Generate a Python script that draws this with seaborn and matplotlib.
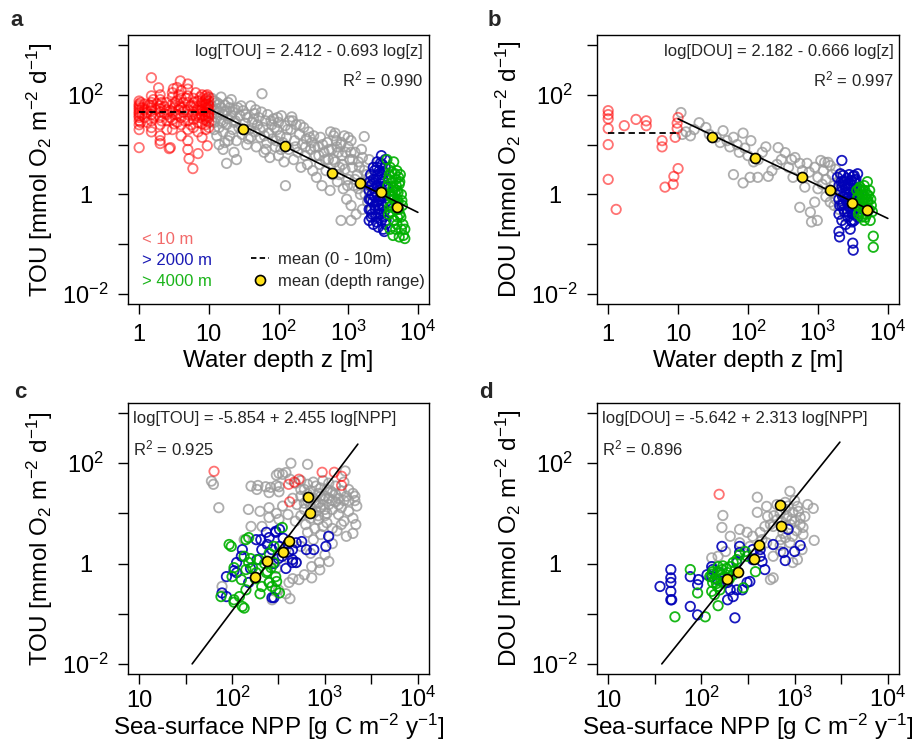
import matplotlib
matplotlib.use("Agg")
import numpy as np
import pandas as pd
import matplotlib.pyplot as plt
from matplotlib.lines import Line2D
from matplotlib.ticker import FixedLocator, FixedFormatter, NullLocator
import seaborn as sns

# ---------------- data ----------------
# Panel a: water depth z [m] vs TOU [mmol O2 m-2 d-1]
a_red = [(1,75),(1,60),(1,50),(1,42),(1,35),(1,30),(1,25),(1,20),(1,65),(1,55),(1,45),(1,38),(1,8.7),(1.05,70),(1.05,28),
         (1.5,220),(1.5,95),(1.5,70),(1.5,55),(1.5,40),(1.5,30),(1.5,22),(1.5,18),(1.5,48),(1.5,60),(1.6,35),(1.6,80),(1.9,138),
         (2,100),(2,80),(2,60),(2,45),(2,35),(2,25),(2,12),(2,15),(2,52),(2.1,30),(2.1,70),(2,10.5),
         (2.5,70),(2.5,50),(2.5,30),(2.5,20),(2.7,8.3),(2.5,40),(2.8,8.7),
         (3,110),(3,90),(3,65),(3,45),(3,32),(3,20),(3.2,55),(3.2,26),(3.1,132),
         (3.5,140),(3.5,75),(3.5,40),(3.5,28),(3.7,100),(3.7,50),
         (3.9,190),(4,120),(4,85),(4,55),(4,35),(4,25),(4,15),(4.3,70),(4.3,45),
         (5,165),(5,130),(5,95),(5,70),(5,50),(5,40),(5,30),(5,20),(5,12),(5,8),(5.2,5.2),(5.5,60),(5.5,25),
         (5.9,3.3),(6,85),(6,60),(6,45),(6,32),(6,22),(6.5,110),(6.5,38),
         (7,75),(7,55),(7,40),(7,28),(7,18),(7.5,90),(7.5,48),(7,6.6),
         (8,100),(8,70),(8,50),(8,38),(8,26),(8,14),(8.5,60),(8.5,32),
         (9,95),(9,80),(9,65),(9,55),(9,45),(9,35),(9,25),(9,20),
         (10,90),(10,75),(10,60),(10,50),(10,42),(10,35),(10,28),(10,22),(9.5,100),(9.5,9.5),
         (1.2,50),(1.2,35),(1.2,65),(1.3,45),(1.3,28),(1.7,50),(1.7,38),(1.8,65),(2.3,42),(2.3,58),(2.8,48),(2.8,35),
         (3.3,70),(3.3,40),(3.8,60),(4.5,50),(4.5,30),(4.7,85),(5.8,40),(6.2,70),(6.8,50),(7.3,35),(7.8,62),(8.2,45),
         (8.8,40),(8.8,75),(9.3,30),(9.6,55),(9.8,65),(9.8,45),(9.9,38),(9.2,85),(1.1,55),(1.1,40),(1.4,62)]
a_gray = [(11,60),(11,40),(12,28),(12,50),(13,70),(13,35),(14,22),(14,45),(15,55),(15,30),(16,18),(16,40),(17,62),(18,25),
          (18,48),(19,33),(20,15),(20,55),(11,85),(12,75),(14,10),(16,8),(19,12),(21,80),(23,7),(13,15),(17,11),(15,90),(25,5),
          (22,45),(22,20),(24,30),(25,12),(26,55),(27,22),(28,38),(30,16),(31,48),(33,27),(35,10),(36,35),(38,20),(40,60),
          (40,14),(42,28),(45,42),(46,18),(48,9),(50,25),(18,4.2),
          (52,35),(55,14),(58,105),(60,22),(62,7),(65,30),(68,11),(70,40),(72,17),(75,5.5),(80,25),(82,13),(85,33),(90,9),
          (95,20),(100,6),(100,28),(105,15),(110,38),(115,11),(120,4.5),(125,24),
          (126,1.5),(130,14),(140,8),(150,20),(155,36),(160,30),(165,5),(170,12),(180,25),(190,7),(200,16),(210,3.5),(220,10),
          (230,22),(240,6),(250,13),(260,4),(270,18),(290,8),(300,11),(310,3),(320,15),
          (340,6),(350,2.2),(370,9),(390,4),(400,14),(420,1.5),(450,7),(480,3),(500,11),(520,5),(550,1.2),(560,18),(580,8),
          (600,2.5),(620,15),(650,4.5),(680,12),(700,1.8),(720,7),(750,3.5),(780,10),(790,0.3),(650,17),(800,11),
          (820,6),(850,1.3),(880,15),(900,3.2),(950,0.8),(1000,9),(1000,2),(1050,5),(1100,0.6),(1100,12),(1150,3.5),
          (1200,1.5),(1250,7),(1300,0.4),(1350,2.5),(1400,4.5),(1500,1),(1550,8),(1600,0.5),(1700,14.5),(1700,3),(1800,1.8),
          (1900,0.7),(2000,5),(2000,2.2),(1100,0.3),(1000,14),(1100,7),
          (11,30),(12,20),(13,52),(14,65),(16,28),(17,45),(19,70),(21,38),(23,28),(24,50),(29,60),(32,20),(34,40),(37,13),
          (44,32),(47,50),(54,20),(57,45),(63,15),(66,8),(78,30),(88,22),(92,12),(97,35),(108,8),(135,20),(145,30),(175,9),
          (205,25),(245,9),(280,14),(330,9),(380,6),(430,10),(470,5),(530,8),(610,5),(690,9),(740,2.5),(830,4),(920,7),
          (980,1.5),(1150,5),(1250,2),(1400,1.3),(1450,3.5),(1600,5.5),(1750,1),(1850,2.5),(1950,1.3),(2100,0.8)]
a_blue = [(2000,0.5),(2000,1.2),(2000,0.3),(2100,2.5),(2100,0.8),(2200,0.4),(2200,1.6),(2300,0.25),(2300,3.5),(2400,0.9),
          (2400,0.6),(2500,2),(2500,0.35),(2500,1.1),(2600,4.5),(2600,0.7),(2700,0.22),(2700,1.4),(2800,3),(2800,0.5),
          (2900,0.9),(2900,2.2),(3000,6),(3000,0.3),(3000,1.3),(3100,0.6),(3100,4),(3200,0.2),(3200,1.8),(3300,0.45),
          (3300,2.8),(3400,1),(3400,5),(3500,0.3),(3500,0.7),(3500,1.5),(2200,1),(2400,3),(2600,1.5),(2800,0.8),
          (3200,0.9),(3300,0.18),(2100,0.5),(2700,0.4),(3000,2.5),
          (2000,0.8),(2050,1.8),(2150,0.35),(2250,0.7),(2350,1.3),(2450,0.5),(2550,0.28),(2650,2.5),(2750,0.6),(2850,1.2),
          (2950,0.4),(3050,0.9),(3150,2),(3250,0.55),(3350,1.4),(3450,0.25),(2300,2),(2600,3.5),(2900,4.2),(3400,3.5),
          (2100,1.5),(3200,0.35)]
a_green = [(3600,5),(3800,2),(3800,0.4),(4000,3.5),(4000,1),(4000,0.2),(4200,0.6),(4200,2.8),(4400,1.4),(4400,0.15),
           (4500,4.5),(4600,0.8),(4600,0.3),(4800,2),(4800,0.5),(5000,1.2),(5000,0.25),(5000,3),(5200,0.7),(5400,1.6),
           (5400,0.14),(5500,0.4),(5600,2.5),(5800,0.2),(5800,1),(6000,0.6),(6200,0.15),(6500,0.2),(6500,0.13),(4300,1.8),
           (4700,1.1),(5100,0.35),(4100,0.9),(4900,0.65),(5300,2.2),(3900,0.55),
           (3700,1.5),(3900,2.5),(4100,0.45),(4300,1.2),(4500,0.3),(4700,2.6),(4900,1.5),(5100,0.8),(5300,0.5),(5500,1.8),
           (5700,0.35),(5900,0.75),(6100,0.25),(4400,0.9),(4800,0.2),(5200,1.1)]
a_mean_depth = [31, 122, 590, 1480, 2960, 5000]
a_mean_tou = [21, 9.5, 2.75, 1.66, 1.1, 0.55]
a_shallow_mean = 46          # mean TOU 0-10 m
a_fit = (2.412, -0.693)      # log[TOU] = 2.412 - 0.693 log[z]
a_fit_depth = [10, 10000]

# Panel b: water depth z [m] vs DOU
b_red = [(1,48),(1,40),(1,33),(1,21),(1,10),(1,2.0),(1.3,0.5),(1.7,24),(2.5,32),(3.5,30),(3.5,24),(5.9,12),(5.9,9),
         (9.1,14),(9.7,27),(9.7,21),(10,3.3),(8.7,2.3),(8.5,1.6),(6.5,1.4),(10,35)]
b_gray = [(11,44),(20,27.5),(15,15),(11.5,16),(13,18),(17,20),(25,22),(28,16),(44,19),(62,14),(85,17),(35,14),(40,11),
          (50,12),(55,9),(70,10),(75,7),(90,8.5),(100,6),(110,12),(120,4.5),(140,5),(160,7),(180,9),(62,2.5),(85,1.7),
          (107,2.2),(138,2.2),(195,2.3),(270,8.7),(340,6.9),(470,5.5),(550,4.2),(700,4.2),(440,2.2),(650,1.4),(550,0.55),
          (780,0.44),(980,0.3),(810,0.28),(220,3),(260,4),(300,5),(380,3.5),(420,5),(600,3),(750,2.8),(900,3.5),(1000,2.2),
          (1100,4.8),(1200,3),(1300,2),(1400,4.4),(1600,2.5),(1700,1.5),(1800,3.2),(2000,1.8),(2200,1.2),(1250,4.4),
          (1500,3.8),(1000,1.3),(1300,0.9),(1500,0.7),(1800,0.8),(2000,0.5),(1150,1.6),(900,0.7),(1600,1.1),(2100,2.5),
          (2300,0.9),(1700,0.6),(2500,0.35)]
b_blue = [(2200,4.8),(3150,0.105),(3200,0.076),(2040,0.14),(1900,2.2),(2000,1.5),(2000,0.8),(2000,0.4),(2100,2.6),
          (2100,1.1),(2200,0.6),(2200,0.3),(2300,1.8),(2300,2.4),(2400,0.9),(2400,0.45),(2500,1.3),(2500,0.25),(2600,2.1),
          (2600,0.7),(2700,1.6),(2700,0.35),(2800,2.5),(2800,1),(2900,0.55),(2900,0.2),(3000,1.9),(3000,0.8),(3100,1.3),
          (3100,0.4),(3200,2.3),(3200,0.65),(3300,1.1),(3300,0.3),(3400,1.7),(3400,0.5),(3500,2),(3500,0.9),(3600,1.4),
          (3600,0.6),(3700,2.6),(3700,0.35),(3800,1),(2200,1.4),(2600,1.1),(3000,0.3),(2400,1.9),(3300,2.4),(2000,0.18),
          (2050,0.6),(2150,1.8),(2250,0.9),(2350,0.5),(2450,1.5),(2550,0.8),(2650,0.45),(2750,1.3),(2850,0.7),(2950,1.6),
          (3050,0.5),(3150,1),(3250,0.4),(3350,1.9),(3450,0.7),(3550,1.2),(2300,0.65),(2800,0.55),(3100,0.28)]
b_green = [(5100,1.8),(6200,0.145),(6200,0.087),(3600,1.2),(3700,0.6),(3800,0.9),(3900,0.45),(4000,1.4),(4000,0.7),
           (4200,0.35),(4200,1.1),(4400,0.55),(4500,0.8),(4600,1.5),(4600,0.3),(4800,0.65),(5000,1),(5000,0.4),(5200,0.75),
           (5400,0.5),(5500,1.2),(5600,0.3),(5800,0.6),(6000,0.45),(4300,0.95),(3800,0.4),(4700,1.2),
           (3700,0.85),(3900,1.3),(4100,0.55),(4300,0.7),(4500,0.4),(4700,0.9),(4900,0.55),(5100,0.7),(5300,0.95),
           (5700,0.8),(4400,1.2),(4800,0.35)]
b_mean_depth = [31, 126, 590, 1480, 3090, 5000]
b_mean_dou = [14.5, 5.5, 2.2, 1.2, 0.66, 0.48]
b_shallow_mean = 17.4
b_fit = (2.182, -0.666)
b_fit_depth = [10, 10000]

# Panel c: sea-surface NPP [g C m-2 y-1] vs TOU
c_red = [(64,69),(407,38),(468,42),(525,48),(417,17),(933,66),(1260,66),(1510,55),(1510,36)]
c_gray = [(430,100),(650,95),(320,63),(350,60),(380,65),(300,58),(60,44),(63,38),(72,13),
          (160,35),(190,36),(230,34),(260,33),(300,36),(320,34),(185,30),(250,26),(320,27),
          (150,12),(200,11),(250,13),(300,10),(350,14),(400,9.5),(250,8.3),(320,7.6),(160,5.5),(210,5.5),(135,3),
          (420,48),(480,40),(550,45),(600,30),(650,38),(700,28),(750,42),(800,35),(850,25),(900,32),(950,45),(1000,22),
          (1050,30),(1100,40),(1200,26),(1300,35),(1400,20),(1500,28),(1600,42),(1700,22),(1800,30),(2000,25),(2100,18),
          (2200,14),(1650,70),
          (450,20),(500,15),(550,22),(600,12),(650,18),(700,14),(750,20),(800,11),(850,16),(900,13),(950,19),(1000,9),
          (1100,15),(1200,12),(1300,17),(1400,9.5),(1500,13),(1600,7),(1800,11),(2000,8),(2150,6),(2100,22),
          (480,7),(550,9),(620,6),(700,8),(780,5),(850,7.5),(950,5.5),(1050,6.5),(1200,5),(1350,4.5),(1500,6),(1700,3.5),
          (900,3.8),(650,4.2),(2000,4),
          (490,1.05),(720,0.87),(870,1.05),(525,0.48),(720,0.52),(410,0.42),(250,0.42),(78,0.35),(316,0.3),(270,0.19),
          (450,0.5),(600,0.6),(880,0.75),(400,1.3),(380,1.9),(1000,1.5),(1200,2.5),(550,2.2),(700,1.6),(1100,1.1),
          (750,3),(300,0.8),(420,0.2),(380,0.25),
          (700,20),(900,22),(1100,20),(1300,24),(800,16),(1000,12),(1200,18),(600,16),(750,10),(950,15),(1400,15),
          (1600,18),(550,30),(1800,18),(850,9),(1050,10),(650,24),(1150,28)]
c_blue = [(204,3.0),(251,3.3),(295,4.4),(324,4.8),(240,2.4),(209,1.9),(186,1.2),(269,1.9),(324,2.2),(347,1.4),(407,1.7),
          (447,1.9),(490,2.6),(562,2.75),(447,1.2),(490,1.05),(631,1.9),(759,1.9),(1023,2.2),(1096,3.5),(126,1.4),
          (129,1.9),(112,1.05),(87,0.55),(78,0.26),(87,0.22),(112,0.66),(151,0.42),(282,0.21),(269,0.21),(105,0.72),
          (182,3.0),(234,4.2),(295,4.2),(447,1.05),(355,3.2),(400,2.5),(316,1.26),(282,1.0),(380,0.8),(158,0.8)]
c_green = [(93,2.4),(141,3.0),(151,3.3),(98,2.2),(347,5.25),(135,1.4),(151,1.05),(141,0.76),(166,0.83),(105,0.83),
           (100,0.55),(126,0.48),(182,0.66),(195,1.2),(234,0.66),(263,0.83),(282,1.05),(295,0.55),(251,0.42),(269,0.35),
           (302,0.44),(209,0.35),(141,0.30),(120,0.22),(105,0.17),(129,0.14),(135,0.13),(76,0.22),(324,0.26),(105,0.19),
           (295,0.30),(224,1.0),(251,1.6),(178,0.5),(158,1.26),(200,0.25),(282,2.2),(240,0.7)]
c_mean_npp = [177, 238, 353, 407, 660, 690]
c_mean_tou = [0.55, 1.15, 1.7, 2.8, 21, 10]
c_fit = (-5.854, 2.455)
c_fit_npp = [37.2, 2260]

# Panel d: sea-surface NPP vs DOU
d_red = [(155,24)]
d_gray = [(891,27.5),(398,21),(501,13.8),(646,15),(794,16.6),(1380,15),(1585,12.6),(1072,13.8),(398,10.5),(513,8.7),
          (170,9.1),(166,5.25),(204,3.5),(257,4.8),(309,4.2),(355,3.5),(427,4.2),(589,5.5),(724,6.9),(832,8.7),
          (955,10.5),(933,7.6),(1148,8.3),(1288,8.7),(1230,5.25),(1622,2.9),(1202,1.9),(1072,1.2),(955,1.05),(589,1.4),
          (708,1.74),(550,0.48),(589,0.52),(151,1.4),(182,1.74),(129,1.3),(257,2.6),(331,2.2),(447,3.0),(501,2.6),
          (708,3.0),(891,2.6),(1230,3.8),(700,10),(800,12),(900,6),(1000,7),(1100,11),(650,7.5),(750,4),(850,5),
          (950,3.5),(1050,4.5),(600,9),(550,6),(1000,18),(480,5.5),(850,14),(1150,6),(700,2.3),(800,3.3)]
d_blue = [(36,0.35),(47,0.76),(47,0.52),(47,0.42),(47,0.28),(47,0.19),(48,0.19),(76,0.55),(93,0.48),(91,0.38),(76,0.14),
          (91,0.095),(115,0.60),(129,0.87),(132,0.76),(166,2.2),(191,0.42),(204,0.30),(191,0.19),(219,0.22),(229,0.083),
          (240,0.30),(275,0.30),(309,0.42),(331,0.44),(257,2.2),(257,1.66),(240,1.05),(355,1.2),(427,1.4),(447,1.1),
          (479,0.76),(589,2.4),(851,4.8),(759,1.66),(794,1.15),(1000,1.74),(1148,2.3),(427,1.9),(355,1.9),(129,0.55),
          (148,0.48),(158,0.66)]
d_green = [(76,0.76),(91,0.26),(52,0.087),(110,0.087),(151,0.145),(123,0.55),(132,0.42),(148,0.35),(129,0.28),(138,0.24),
           (158,0.30),(170,0.42),(166,0.76),(191,0.66),(204,0.87),(219,1.05),(240,1.2),(257,1.5),(295,1.74),(309,1.4),
           (282,0.33),(380,0.69),(219,0.60),(151,0.87),(132,0.69),(140,0.5),(160,0.6),(175,0.55),(150,0.7),(145,0.4),
           (185,0.8),(200,0.5),(230,0.75),(170,0.9),(130,0.62)]
d_mean_npp = [186, 245, 363, 417, 692, 708]
d_mean_dou = [0.5, 0.69, 1.26, 2.3, 15, 5.5]
d_fit = (-5.642, 2.313)
d_fit_npp = [37.6, 3060]

depth_ticks = [1, 10, 100, 1000, 10000]
depth_ticklabels = ['1', '10', '$10^2$', '$10^3$', '$10^4$']
npp_ticks = [10, 31.62, 100, 316.2, 1000, 3162, 10000]
npp_ticklabels = ['10', '', '$10^2$', '', '$10^3$', '', '$10^4$']
flux_ticks = [0.01, 0.1, 1, 10, 100, 1000]
flux_ticklabels = ['$10^{-2}$', '', '1', '', '$10^2$', '']

# ---------------- style ----------------
sns.set_style("white")
plt.rcParams['font.family'] = ['Liberation Sans', 'DejaVu Sans']
plt.rcParams['mathtext.fontset'] = 'custom'
plt.rcParams['mathtext.rm'] = 'Liberation Sans'
plt.rcParams['mathtext.it'] = 'Liberation Sans:italic'
plt.rcParams['mathtext.bf'] = 'Liberation Sans:bold'
plt.rcParams['mathtext.sf'] = 'Liberation Sans'
plt.rcParams['mathtext.default'] = 'regular'

RED, GRAY, BLUE, GREEN, YELLOW = '#ff0000', '#9a9a9a', '#0000b8', '#00b000', '#ffe21a'

W, H = 920, 744
fig = plt.figure(figsize=(W / 100, H / 100), dpi=100)


def add_ax(l, t, r, b):
    ax = fig.add_axes([l / W, 1 - b / H, (r - l) / W, (b - t) / H])
    ax.set_xscale('log')
    ax.set_yscale('log')
    return ax


def pts(ax, data, color, alpha, z=2):
    df = pd.DataFrame(data, columns=['x', 'y'])
    sns.scatterplot(data=df, x='x', y='y', ax=ax, marker='o', s=46, facecolor='none',
                    edgecolor=color, linewidth=1.3, alpha=alpha, zorder=z, legend=False)


def means(ax, x, y):
    df = pd.DataFrame({'x': x, 'y': y})
    sns.scatterplot(data=df, x='x', y='y', ax=ax, marker='o', s=52, facecolor=YELLOW,
                    edgecolor='black', linewidth=1.2, zorder=6, legend=False)


def fit_line(ax, xr, coef):
    x = np.array(xr, dtype=float)
    y = 10 ** (coef[0] + coef[1] * np.log10(x))
    sns.lineplot(x=x, y=y, ax=ax, color='black', linewidth=1.2, zorder=5, estimator=None, sort=False)


def shallow(ax, val):
    sns.lineplot(x=[1, 10], y=[val, val], ax=ax, color='black', linewidth=1.3, linestyle=(0, (3.5, 2.2)),
                 zorder=5, estimator=None, sort=False)


def style(ax, xlim, xticks, xlabels, xlabel, ylabel, xtickpad, xlabelpad):
    ax.set_xlim(*xlim)
    ax.set_ylim(10 ** -2.2, 10 ** 3.2)
    ax.xaxis.set_major_locator(FixedLocator(xticks))
    ax.xaxis.set_major_formatter(FixedFormatter(xlabels))
    ax.xaxis.set_minor_locator(NullLocator())
    ax.yaxis.set_major_locator(FixedLocator(flux_ticks))
    ax.yaxis.set_major_formatter(FixedFormatter(flux_ticklabels))
    ax.yaxis.set_minor_locator(NullLocator())
    for sp in ax.spines.values():
        sp.set_visible(True)
        sp.set_color('black')
        sp.set_linewidth(1.0)
    ax.tick_params(axis='both', which='major', direction='out', length=7.5, width=1.0, color='black',
                   labelsize=17, bottom=True, left=True, top=False, right=False, labelcolor='black')
    ax.tick_params(axis='x', pad=xtickpad)
    ax.tick_params(axis='y', pad=23)
    plt.setp(ax.get_xticklabels(), va='baseline')
    plt.setp(ax.get_yticklabels(), ha='center', va='center_baseline')
    ax.set_xlabel(xlabel, fontsize=17.5, labelpad=xlabelpad, color='black')
    ax.set_ylabel(ylabel, fontsize=17.5, labelpad=5, color='black')


depth_lim = (10 ** -0.16, 10 ** 4.16)
npp_lim = (10 ** 0.88, 10 ** 4.12)
tou_label = 'TOU [mmol O$_2$ m$^{-2}$ d$^{-1}$]'
dou_label = 'DOU [mmol O$_2$ m$^{-2}$ d$^{-1}$]'
npp_label = 'Sea-surface NPP [g C m$^{-2}$ y$^{-1}$]'

# ---- panel a ----
ax = add_ax(128, 35, 429, 304)
pts(ax, a_gray, GRAY, 0.8)
pts(ax, a_red, RED, 0.55)
pts(ax, a_blue, BLUE, 0.9)
pts(ax, a_green, GREEN, 0.9)
fit_line(ax, a_fit_depth, a_fit)
shallow(ax, a_shallow_mean)
means(ax, a_mean_depth, a_mean_tou)
style(ax, depth_lim, depth_ticks, depth_ticklabels, 'Water depth z [m]', tou_label, 19, 3)
ax.text(0.98, 0.94, 'log[TOU] = 2.412 - 0.693 log[z]', transform=ax.transAxes, ha='right', va='center', fontsize=12)
ax.text(0.98, 0.836, 'R$^2$ = 0.990', transform=ax.transAxes, ha='right', va='center', fontsize=12)
ax.text(0.047, 0.238, '< 10 m', transform=ax.transAxes, ha='left', va='center', fontsize=12, color='#f26a6a')
ax.text(0.047, 0.160, '> 2000 m', transform=ax.transAxes, ha='left', va='center', fontsize=12, color='#1a1ab4')
ax.text(0.047, 0.085, '> 4000 m', transform=ax.transAxes, ha='left', va='center', fontsize=12, color='#1ab41a')
handles = [Line2D([], [], color='black', lw=1.3, ls=(0, (3.0, 1.8))),
           Line2D([], [], color='black', marker='o', ls='none', mfc=YELLOW, mec='black', mew=1.2, ms=7.2)]
ax.legend(handles, ['mean (0 - 10m)', 'mean (depth range)'], loc='lower right', bbox_to_anchor=(0.985, 0.055),
          frameon=False, fontsize=12, handlelength=1.1, handletextpad=0.5, labelspacing=0.45, borderpad=0,
          borderaxespad=0)

# ---- panel b ----
ax = add_ax(597, 35, 899, 304)
pts(ax, b_gray, GRAY, 0.8)
pts(ax, b_red, RED, 0.55)
pts(ax, b_blue, BLUE, 0.9)
pts(ax, b_green, GREEN, 0.9)
fit_line(ax, b_fit_depth, b_fit)
shallow(ax, b_shallow_mean)
means(ax, b_mean_depth, b_mean_dou)
style(ax, depth_lim, depth_ticks, depth_ticklabels, 'Water depth z [m]', dou_label, 19, 3)
ax.text(0.983, 0.94, 'log[DOU] = 2.182 - 0.666 log[z]', transform=ax.transAxes, ha='right', va='center', fontsize=12)
ax.text(0.983, 0.836, 'R$^2$ = 0.997', transform=ax.transAxes, ha='right', va='center', fontsize=12)

# ---- panel c ----
ax = add_ax(128, 403, 429, 674)
pts(ax, c_gray, GRAY, 0.8)
pts(ax, c_red, RED, 0.55)
pts(ax, c_blue, BLUE, 0.9)
pts(ax, c_green, GREEN, 0.9)
fit_line(ax, c_fit_npp, c_fit)
means(ax, c_mean_npp, c_mean_tou)
style(ax, npp_lim, npp_ticks, npp_ticklabels, npp_label, tou_label, 16, 0)
ax.text(0.017, 0.941, 'log[TOU] = -5.854 + 2.455 log[NPP]', transform=ax.transAxes, ha='left', va='center', fontsize=12)
ax.text(0.017, 0.834, 'R$^2$ = 0.925', transform=ax.transAxes, ha='left', va='center', fontsize=12)

# ---- panel d ----
ax = add_ax(597, 403, 899, 674)
pts(ax, d_gray, GRAY, 0.8)
pts(ax, d_red, RED, 0.55)
pts(ax, d_blue, BLUE, 0.9)
pts(ax, d_green, GREEN, 0.9)
fit_line(ax, d_fit_npp, d_fit)
means(ax, d_mean_npp, d_mean_dou)
style(ax, npp_lim, npp_ticks, npp_ticklabels, npp_label, dou_label, 16, 0)
ax.text(0.017, 0.941, 'log[DOU] = -5.642 + 2.313 log[NPP]', transform=ax.transAxes, ha='left', va='center', fontsize=12)
ax.text(0.017, 0.834, 'R$^2$ = 0.896', transform=ax.transAxes, ha='left', va='center', fontsize=12)

# panel letters
for lab, (px, py) in {'a': (17, 20), 'b': (494, 20), 'c': (20, 392), 'd': (486, 392)}.items():
    fig.text(px / W, 1 - py / H, lab, fontsize=16, fontweight='bold', ha='center', va='center')

fig.savefig('out.png', dpi=100)
